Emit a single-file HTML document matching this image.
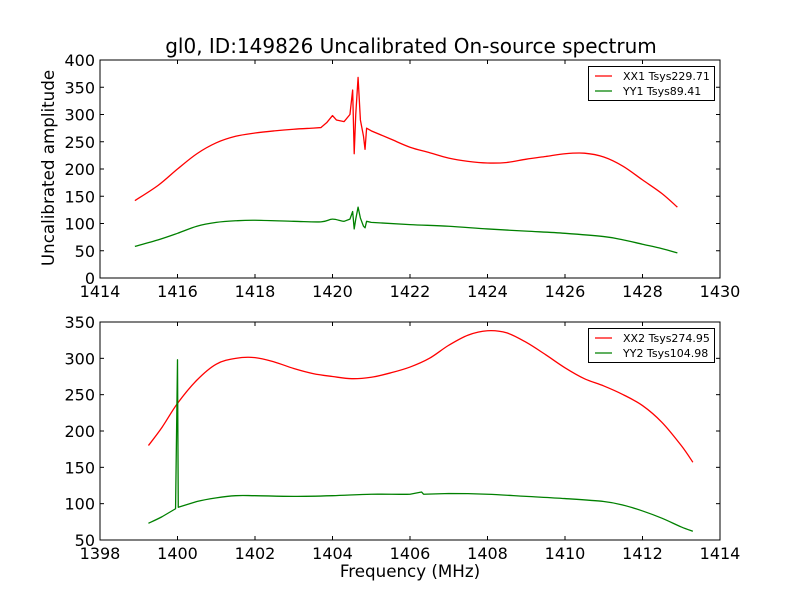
<!DOCTYPE html>
<html><head><meta charset="utf-8">
<style>
html,body{margin:0;padding:0;background:#fff;}
svg{display:block;font-family:"DejaVu Sans","Liberation Sans",sans-serif;}
</style></head>
<body>
<svg id="chart" width="800" height="600" viewBox="0 0 800 600">
<rect width="800" height="600" fill="#fff"/>
<text x="411" y="53" font-size="20" text-anchor="middle">gl0, ID:149826 Uncalibrated On-source spectrum</text>
<text transform="translate(54,168) rotate(-90)" font-size="16.7" text-anchor="middle">Uncalibrated amplitude</text>
<text x="410" y="577" font-size="16.7" text-anchor="middle">Frequency (MHz)</text>
</svg>
<script>
// Top panel data
const topFreqXX = [1414.9,1415.5,1416,1416.5,1417,1417.5,1418,1418.5,1419,1419.5,1419.7,1419.85,1420,1420.1,1420.3,1420.45,1420.52,1420.56,1420.6,1420.66,1420.72,1420.8,1420.84,1420.88,1421,1421.5,1422,1422.5,1423,1423.5,1424,1424.5,1425,1425.5,1426,1426.5,1427,1427.5,1428,1428.5,1428.9];
const topValXX = [142,170,200,228,248,260,266,270,273,275,276,285,298,290,287,300,345,228,300,368,290,260,236,275,270,255,240,230,220,214,211,212,218,223,228,229,222,205,180,155,130];
const topFreqYY = [1414.9,1415.5,1416,1416.5,1417,1417.5,1418,1419,1419.7,1420,1420.3,1420.45,1420.52,1420.56,1420.6,1420.66,1420.72,1420.8,1420.84,1420.88,1421,1422,1423,1424,1425,1426,1427,1427.5,1428,1428.5,1428.9];
const topValYY = [58,70,82,95,102,105,106,104,103,108,104,108,122,90,108,130,110,95,92,104,102,98,95,90,86,82,76,70,62,54,46];
// Bottom panel data
const botFreqXX = [1399.25,1399.6,1400,1400.5,1401,1401.5,1402,1402.5,1403,1403.5,1404,1404.5,1405,1405.5,1406,1406.5,1407,1407.5,1408,1408.5,1409,1409.5,1410,1410.5,1411,1411.5,1412,1412.5,1413,1413.3];
const botValXX = [180,205,238,270,292,300,301,295,286,279,275,272,274,280,288,300,318,332,338,335,322,305,287,272,262,250,235,212,180,157];
const botFreqYY = [1399.25,1399.6,1399.95,1400,1400.02,1400.5,1401,1401.5,1402,1403,1404,1405,1406,1406.3,1406.35,1407,1408,1409,1410,1411,1411.5,1412,1412.5,1413,1413.3];
const botValYY = [73,82,93,298,95,103,108,111,111,110,111,113,113,116,113,114,113,110,107,103,98,90,80,68,62];
// Ticks
const topXTicks = [1414,1416,1418,1420,1422,1424,1426,1428,1430];
const topYTicks = [0,50,100,150,200,250,300,350,400];
const botXTicks = [1398,1400,1402,1404,1406,1408,1410,1412,1414];
const botYTicks = [50,100,150,200,250,300,350];
const topLegend = ["XX1 Tsys229.71","YY1 Tsys89.41"];
const botLegend = ["XX2 Tsys274.95","YY2 Tsys104.98"];

const NS='http://www.w3.org/2000/svg';
const svg=document.getElementById('chart');
function mk(tag,attrs,parent){const e=document.createElementNS(NS,tag);for(const k in attrs)e.setAttribute(k,attrs[k]);(parent||svg).appendChild(e);return e;}

function smoothPath(fx,fy,sx,sy){
  const P=fx.map((f,j)=>[sx(f),sy(fy[j])]);
  let d='M'+P[0][0].toFixed(2)+','+P[0][1].toFixed(2);
  for(let i=0;i<P.length-1;i++){
    const gap=fx[i+1]-fx[i];
    const nearSpike=gap<0.15||(i>0&&fx[i]-fx[i-1]<0.15)||(i<P.length-2&&fx[i+2]-fx[i+1]<0.15);
    if(nearSpike){d+='L'+P[i+1][0].toFixed(2)+','+P[i+1][1].toFixed(2);continue;}
    const p0=P[i>0?i-1:i],p1=P[i],p2=P[i+1],p3=P[i+2<P.length?i+2:i+1];
    const c1=[p1[0]+(p2[0]-p0[0])/6,p1[1]+(p2[1]-p0[1])/6];
    const c2=[p2[0]-(p3[0]-p1[0])/6,p2[1]-(p3[1]-p1[1])/6];
    d+='C'+c1[0].toFixed(2)+','+c1[1].toFixed(2)+' '+c2[0].toFixed(2)+','+c2[1].toFixed(2)+' '+p2[0].toFixed(2)+','+p2[1].toFixed(2);
  }
  return d;
}

function panel(name,top,bottom,xmin,xmax,ymin,ymax,xt,yt,series,legend){
  const L=100,R=720;
  const g=mk('g',{});
  
  
  const sx=v=>L+(v-xmin)/(xmax-xmin)*(R-L);
  const sy=v=>bottom-(v-ymin)/(ymax-ymin)*(bottom-top);
  const colors=['#ff0000','#008000'];
  series.forEach((s,i)=>{
    const p=mk('path',{d:smoothPath(s[0],s[1],sx,sy),fill:'none',stroke:colors[i],'stroke-width':1.3,'stroke-linejoin':'round'},g);
    
    
  });
  xt.forEach(v=>{
    const x=sx(v);
    mk('line',{x1:x,x2:x,y1:bottom,y2:bottom-4,stroke:'#000'},g);
    mk('line',{x1:x,x2:x,y1:top,y2:top+4,stroke:'#000'},g);
    const t=mk('text',{x:x,y:bottom+19,'font-size':16,'text-anchor':'middle'},g);
    t.textContent=v;
    
    
  });
  yt.forEach(v=>{
    const y=sy(v);
    mk('line',{x1:L,x2:L+4,y1:y,y2:y,stroke:'#000'},g);
    mk('line',{x1:R,x2:R-4,y1:y,y2:y,stroke:'#000'},g);
    const t=mk('text',{x:L-5,y:y+6,'font-size':16,'text-anchor':'end'},g);
    t.textContent=v;
    
    
  });
  mk('rect',{x:L,y:top,width:R-L,height:bottom-top,fill:'none',stroke:'#000','stroke-width':1},g);
  const lg=mk('g',{},g);
  
  
  const ly=top+6;
  mk('rect',{x:588.5,y:ly+0.5,width:126,height:34,fill:'#fff',stroke:'#000'},lg);
  legend.forEach((lab,i)=>{
    const y=ly+10+i*15;
    mk('line',{x1:595,x2:612,y1:y,y2:y,stroke:colors[i],'stroke-width':1.2},lg);
    const t=mk('text',{x:623,y:y+4,'font-size':11},lg);
    t.textContent=lab;
    
    
  });
}
panel('top-panel',60,278,1414,1430,0,400,topXTicks,topYTicks,[[topFreqXX,topValXX],[topFreqYY,topValYY]],topLegend);
panel('bottom-panel',322,540,1398,1414,50,350,botXTicks,botYTicks,[[botFreqXX,botValXX],[botFreqYY,botValYY]],botLegend);
</script>
</body></html>
